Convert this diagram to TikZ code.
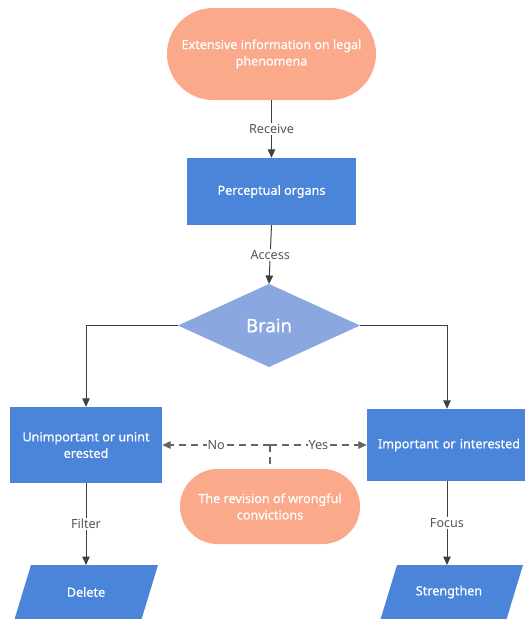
\documentclass[tikz,border=0pt]{standalone}
\usepackage{fontspec}
\setmainfont{Noto Sans}
\newfontfamily\boxfont[FakeBold=0.6]{Noto Sans}
\usetikzlibrary{arrows.meta,shapes.geometric,shapes.misc}
\definecolor{salmon}{HTML}{FBA98B}
\definecolor{bluebox}{HTML}{4A85DA}
\definecolor{diam}{HTML}{8AA7E0}
\definecolor{linec}{HTML}{3F3F3F}
\definecolor{labc}{HTML}{555555}
\tikzset{
  boxtext/.style={text=white, font=\boxfont\fontsize{12.6}{16.5}\selectfont, align=center},
  stadium/.style={rounded rectangle, fill=salmon, boxtext, inner sep=0pt},
  bbox/.style={rectangle, fill=bluebox, boxtext, inner sep=0pt},
  lab/.style={fill=white, text=labc, font=\fontsize{12.6}{14}\selectfont, inner sep=1.5pt},
  conn/.style={draw=linec, line width=1pt, -{Triangle[length=8.5pt,width=7.5pt]}},
  dconn/.style={draw=linec!80, line width=1.3pt, dash pattern=on 7pt off 5pt},
}
\begin{document}
\begin{tikzpicture}[x=1pt,y=-1pt]
\useasboundingbox (0,0) rectangle (525,619);
\begin{scope}
\clip (0,0) rectangle (525,619);
\node[stadium, minimum width=209pt, minimum height=92pt] (src) at (271.5,54) {Extensive information on legal\\phenomena};
\node[bbox, minimum width=169pt, minimum height=67pt] (perc) at (271.5,191.5) {Perceptual organs};
\fill[diam] (178,325.5) coordinate (bl) -- (269,284) coordinate (bt) -- (360,325.5) coordinate (br) -- (269,367) -- cycle;
\node[boxtext, font=\boxfont\fontsize{18.5}{20}\selectfont] (brain) at (269,325.5) {Brain};
\node[bbox, minimum width=152pt, minimum height=76pt] (unimp) at (86,445) {Unimportant or unint\\erested};
\node[bbox, minimum width=160pt, minimum height=72pt, text width=160pt] (imp) at (447,445) {\hspace*{4pt}Important or interested};
\node[stadium, minimum width=180pt, minimum height=75pt] (rev) at (270,506.5) {The revision of wrongful\\convictions};
\fill[bluebox] (31,565) -- (158,565) -- (141,621) -- (14,621) -- cycle;
\node[boxtext] (del) at (86,592) {Delete};
\coordinate (delt) at (86,565);
\fill[bluebox] (397,565) -- (523,565) -- (506,621) -- (380,621) -- cycle;
\node[boxtext] (str) at (449,592) {Strengthen};
\coordinate (strt) at (447,565);
\end{scope}
% connectors
\draw[conn] (src.south) -- node[lab]{Receive} (perc.north);
\draw[conn] (perc.south) -- node[lab]{Access} (bt);
\draw[conn] (bl) -| (unimp.north);
\draw[conn] (br) -| (imp.north);
\draw[conn] (unimp.south) -- node[lab]{Filter} (delt);
\draw[conn] (imp.south) -- node[lab]{Focus} (strt);
\coordinate (mid) at (270,445);
\draw[dconn, -{Triangle[length=8.5pt,width=7.5pt]}] (mid) -- node[lab, pos=0.5, inner sep=0.5pt]{No} (unimp.east);
\draw[dconn, -{Triangle[length=8.5pt,width=7.5pt]}] (mid) -- node[lab, pos=0.5, inner sep=0.5pt]{Yes} (imp.west);
\draw[dconn] (mid) -- (rev.north);
\end{tikzpicture}
\end{document}
